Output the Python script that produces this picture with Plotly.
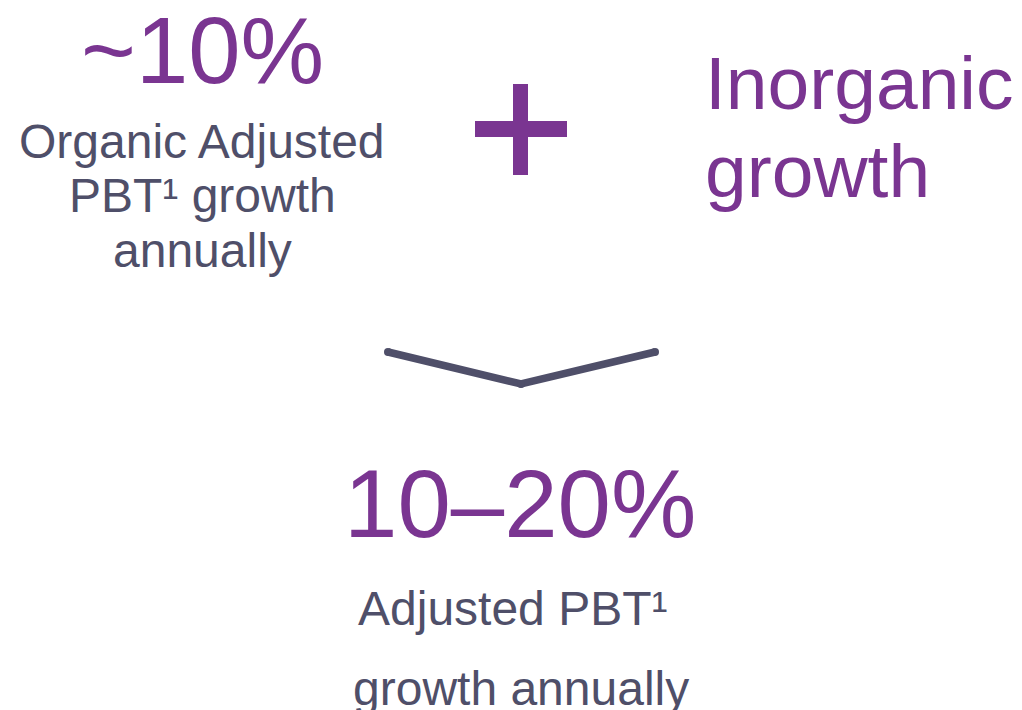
import plotly.graph_objects as go

PURPLE = "#7A3591"
GREY = "#4F4F69"
FONT = "Liberation Sans, Arial, sans-serif"

# text blocks of the infographic
organic_headline = "~10%"
organic_lines = ["Organic Adjusted", "PBT\u00b9 growth", "annually"]
inorganic_lines = ["Inorganic", "growth"]
target_headline = "10\u201320%"
target_lines = ["Adjusted PBT\u00b9", "growth annually"]

# chevron (pixel space, y measured from top)
chevron_x = [388, 521, 655]
chevron_y = [352, 384, 352]

fig = go.Figure()

# downward chevron between the two halves
fig.add_trace(go.Scatter(
    x=chevron_x, y=chevron_y,
    mode="lines+markers",
    line=dict(color=GREY, width=7.5),
    marker=dict(color=GREY, size=8),
    hoverinfo="skip",
    showlegend=False
))

# the big "+"
fig.add_shape(type="rect", x0=513, x1=528, y0=84, y1=175,
              fillcolor=PURPLE, line_width=0, layer="above")
fig.add_shape(type="rect", x0=475, x1=567, y0=121, y1=137,
              fillcolor=PURPLE, line_width=0, layer="above")


def label(text, x, baseline, size, color, xanchor="center"):
    # plotly centres a single line about 0.35em above its baseline
    fig.add_annotation(
        text=text, x=x, y=baseline - 0.35 * size,
        xref="x", yref="y", xanchor=xanchor, yanchor="middle",
        showarrow=False,
        font=dict(family=FONT, size=size, color=color)
    )


label(organic_headline, 202, 83, 94, PURPLE)
for line, base in zip(organic_lines, [158, 212, 267]):
    label(line, 202, base, 48, GREY)

for line, base in zip(inorganic_lines, [109, 197]):
    label(line, 703, base, 75, PURPLE, xanchor="left")

label(target_headline, 520, 537, 96, PURPLE)
for line, base in zip(target_lines, [625, 705]):
    label(line, 512 if "PBT" in line else 521, base, 48, GREY)

fig.update_layout(
    width=1022, height=710,
    margin=dict(l=0, r=0, t=0, b=0),
    paper_bgcolor="white", plot_bgcolor="white",
    xaxis=dict(range=[0, 1022], visible=False, fixedrange=True),
    yaxis=dict(range=[710, 0], visible=False, fixedrange=True),
    showlegend=False
)

# drop the page's default 8px body margin so the figure sits at the corner
fig.write_html(
    "out.html",
    config={"displayModeBar": False},
    post_script="document.body.style.margin='0';"
)
